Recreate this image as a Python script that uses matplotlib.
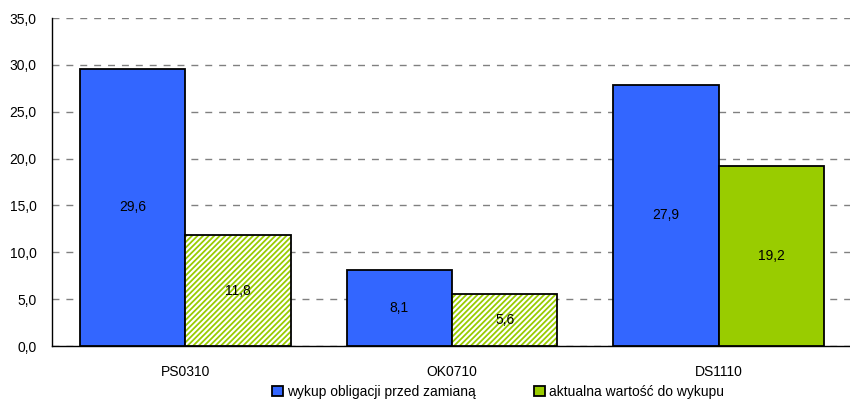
import matplotlib

matplotlib.use("Agg")
import matplotlib.pyplot as plt
import numpy as np
from matplotlib.patches import Patch
from matplotlib.ticker import FuncFormatter

categories = ["PS0310", "OK0710", "DS1110"]
before_swap = [29.6, 8.1, 27.9]
current_value = [11.8, 5.6, 19.2]
hatched = [True, True, False]

series_labels = ["wykup obligacji przed zamianą", "aktualna wartość do wykupu"]

BLUE = "#3366ff"
GREEN = "#99cc00"

plt.rcParams.update(
    {
        "font.family": ["Liberation Sans", "DejaVu Sans"],
        "font.size": 10,
        "hatch.linewidth": 1.3,
        "hatch.color": GREEN,
    }
)

fig = plt.figure(figsize=(8.5, 4.03), dpi=100)
ax = fig.add_axes([52 / 850, 1 - 346 / 403, 800 / 850, 328 / 403])

x = np.arange(len(categories))
width = 0.395

ax.bar(x - width / 2, before_swap, width, color=BLUE, edgecolor="black", linewidth=1.3, zorder=3)

for xi, val, h in zip(x + width / 2, current_value, hatched):
    if h:
        # light striped fill, outline drawn on top
        ax.bar(xi, val, width, color="white", hatch="//////", edgecolor=GREEN, linewidth=0, zorder=3)
        ax.bar(xi, val, width, fill=False, edgecolor="black", linewidth=1.3, zorder=4)
    else:
        ax.bar(xi, val, width, color=GREEN, edgecolor="black", linewidth=1.3, zorder=3)

for xi, val in zip(x - width / 2, before_swap):
    ax.text(xi, val / 2, f"{val:.1f}".replace(".", ","), ha="center", va="center", zorder=5)
for xi, val in zip(x + width / 2, current_value):
    ax.text(xi, val / 2, f"{val:.1f}".replace(".", ","), ha="center", va="center", zorder=5)

ax.set_xlim(-0.5, len(categories) - 0.5)
ax.set_ylim(0, 35)
ax.set_yticks(np.arange(0, 35.1, 5))
ax.yaxis.set_major_formatter(FuncFormatter(lambda v, _: f"{v:.1f}".replace(".", ",")))
ax.set_xticks(x)
ax.set_xticklabels(categories)
ax.tick_params(axis="both", length=0, labelsize=10)
ax.tick_params(axis="y", pad=11)
ax.tick_params(axis="x", pad=14)

ax.grid(axis="y", color="#808080", linestyle=(0, (5, 5)), linewidth=1.0, zorder=0)
for side in ["top", "right"]:
    ax.spines[side].set_visible(False)
for side in ["left", "bottom"]:
    ax.spines[side].set_color("black")
    ax.spines[side].set_linewidth(1.0)

handles = [
    Patch(facecolor=BLUE, edgecolor="black", linewidth=1.3),
    Patch(facecolor=GREEN, edgecolor="black", linewidth=1.3),
]
fig.legend(
    handles,
    series_labels,
    loc="center",
    bbox_to_anchor=(498 / 850, 1 - 392 / 403),
    ncol=2,
    frameon=False,
    handlelength=0.8,
    handleheight=0.8,
    handletextpad=0.3,
    columnspacing=4.2,
    borderpad=0,
    fontsize=10,
)

fig.savefig("out.png", dpi=100)
